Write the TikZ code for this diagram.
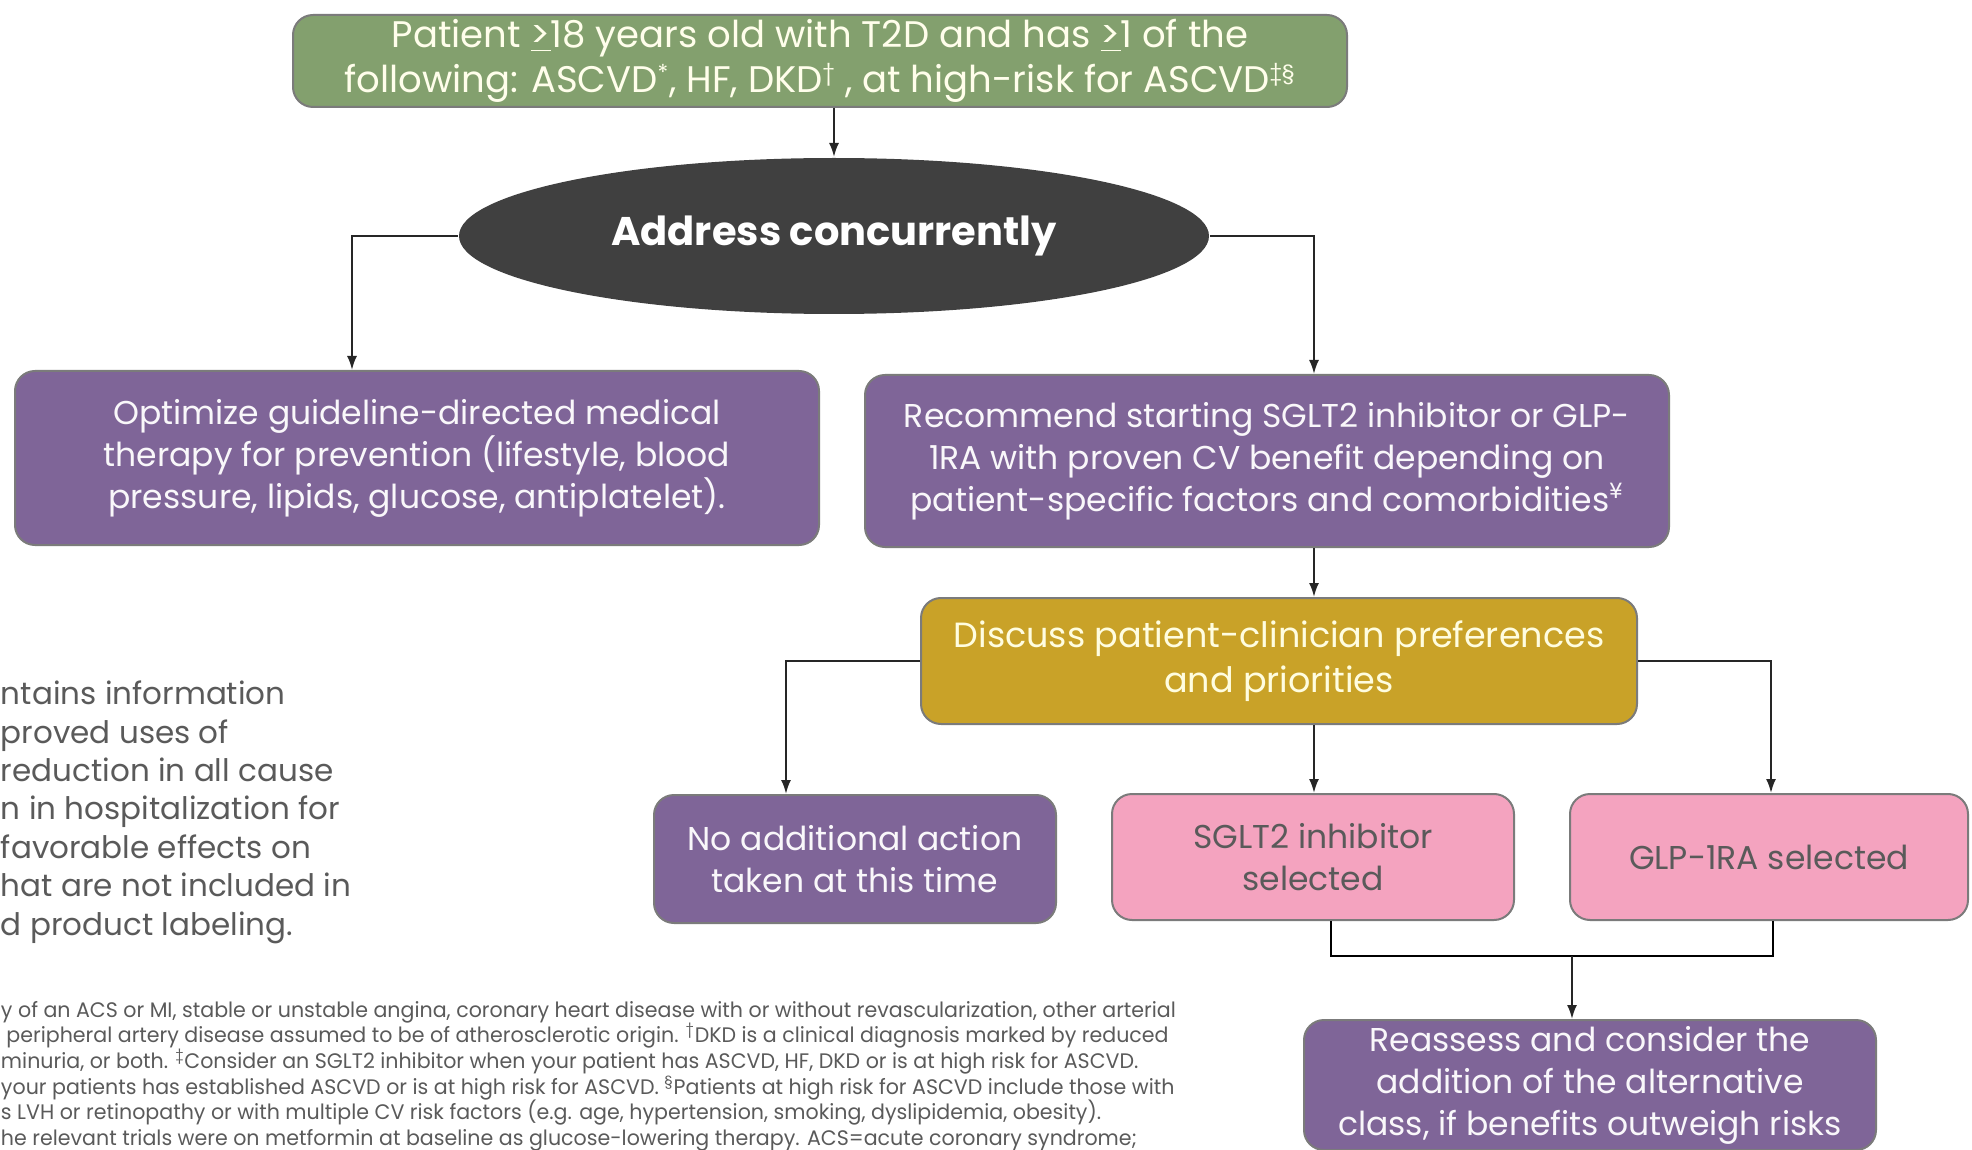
\documentclass[tikz,border=0pt]{standalone}
\usepackage{fontspec}
\setmainfont{Poppins}
\newfontfamily\notefont[FakeStretch=0.98]{Poppins}
\usetikzlibrary{shapes, arrows.meta, positioning}
\definecolor{MyGreen}{HTML}{83A06E}
\definecolor{MyPurple}{HTML}{7F6598}
\definecolor{MyGold}{HTML}{C9A228}
\definecolor{MyPink}{HTML}{F4A3BF}
\definecolor{MyDark}{HTML}{404040}
\definecolor{MyGray}{HTML}{5A5A5A}
\newcommand\supmark[1]{\textsuperscript{\fontsize{11}{11}\selectfont #1}}
\tikzset{every picture/.style={line width=1pt}}

\begin{document}
\begin{tikzpicture}[x=0.5pt,y=-0.5pt,
			box/.style={draw=MyGray!80,rectangle,rounded corners=10pt,align=center,inner sep=0pt},
			purplebox/.style={box,fill=MyPurple,text=white!95!MyPurple,font=\fontsize{16.5}{21}\selectfont},
			pinkbox/.style={box,fill=MyPink,text=MyGray,font=\fontsize{16.5}{21}\selectfont},
			arr/.style={-{Latex[length=7pt,width=5pt]},draw=black!85}
		]
		\useasboundingbox (0,0) rectangle (1972,1150);
		% flow
		\node (top) [box,fill=MyGreen,text=white!92!yellow,minimum width=527pt,minimum height=46pt,
			font=\fontsize{18.5}{22.5}\selectfont] at (820,61)
		{Patient \underline{>}18 years old with T2D and has \underline{>}1 of the\\
		 following: ASCVD\supmark{*}, HF, DKD\supmark{†} , at high-risk for ASCVD\supmark{‡§}};
		\node (addr) [ellipse,fill=MyDark,text=white,minimum width=375pt,minimum height=78pt,inner sep=0pt,
			font=\fontsize{20}{24}\selectfont\bfseries] at (834,236) {Address concurrently};
		\node (opt) [purplebox,minimum width=402pt,minimum height=87pt] at (417,458)
		{Optimize guideline-directed medical\\
		 therapy for prevention (lifestyle, blood\\
		 pressure, lipids, glucose, antiplatelet).};
		\node (rec) [purplebox,minimum width=402pt,minimum height=86pt] at (1267,461)
		{Recommend starting SGLT2 inhibitor or GLP-\\
		 1RA with proven CV benefit depending on\\
		 patient-specific factors and comorbidities\supmark{¥}};
		\node (disc) [box,fill=MyGold,text=white!88!yellow,minimum width=358pt,minimum height=63pt,
			font=\fontsize{17.5}{22.5}\selectfont] at (1279,661)
		{Discuss patient-clinician preferences\\ and priorities};
		\node (noadd) [purplebox,minimum width=201pt,minimum height=64pt] at (855,859)
		{No additional action\\ taken at this time};
		\node (sglt) [pinkbox,minimum width=201pt,minimum height=63pt] at (1313,857)
		{SGLT2 inhibitor\\ selected};
		\node (glp) [pinkbox,minimum width=199pt,minimum height=63pt] at (1769,857)
		{GLP-1RA selected};
		\node (reas) [purplebox,minimum width=286pt,minimum height=65pt] at (1590,1085)
		{Reassess and consider the\\
		 addition of the alternative\\
		 class, if benefits outweigh risks};
		% connectors
		\coordinate (lj) at (352,0);
		\coordinate (rj) at (1314,0);
		\coordinate (dj) at (786,0);
		\coordinate (gj) at (1771,0);
		\coordinate (mj) at (1572,956);
		\draw[arr] (addr|-top.south) -- (addr.north);
		\draw[arr] (addr.west) -| (opt.north-|lj);
		\draw[arr] (addr.east) -| (rec.north-|rj);
		\draw[arr] (rec.south-|rj) -- (disc.north-|rj);
		\draw[arr] (disc.west) -| (noadd.north-|dj);
		\draw[arr] (disc.south-|rj) -- (sglt.north-|rj);
		\draw[arr] (disc.east) -| (glp.north-|gj);
		\draw (sglt.south-|1331,0) |- (mj) -| (glp.south-|1773,0);
		\draw[arr] (mj) -- (reas.north-|mj);
		% side text
		\node (note) [anchor=north west,align=left,text=MyGray,inner sep=0pt,
			font=\fontsize{15.5}{19.2}\selectfont] at (0,680)
		{ntains information\\
		 proved uses of\\
		 reduction in all cause\\
		 n in hospitalization for\\
		 favorable effects on\\
		 hat are not included in\\
		 d product labeling.};
		\node (foot) [anchor=north west,align=left,text=MyGray,inner sep=0pt,
			font=\notefont\fontsize{10.5}{12.85}\selectfont] at (0,1000)
		{y of an ACS or MI, stable or unstable angina, coronary heart disease with or without revascularization, other arterial\\
		 \ peripheral artery disease assumed to be of atherosclerotic origin. \textsuperscript{†}DKD is a clinical diagnosis marked by reduced\\
		 minuria, or both. \textsuperscript{‡}Consider an SGLT2 inhibitor when your patient has ASCVD, HF, DKD or is at high risk for ASCVD.\\
		 your patients has established ASCVD or is at high risk for ASCVD. \textsuperscript{§}Patients at high risk for ASCVD include those with\\
		 s LVH or retinopathy or with multiple CV risk factors (e.g. age, hypertension, smoking, dyslipidemia, obesity).\\
		 he relevant trials were on metformin at baseline as glucose-lowering therapy. ACS=acute coronary syndrome;};
	\end{tikzpicture}
\end{document}
